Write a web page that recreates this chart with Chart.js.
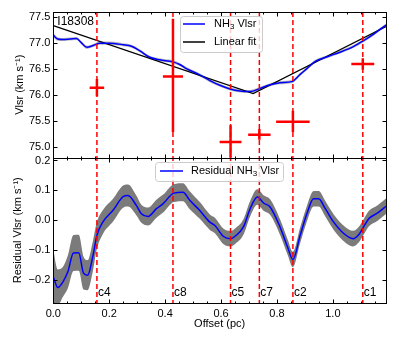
<!DOCTYPE html>
<html><head><meta charset="utf-8">
<script src="https://cdn.jsdelivr.net/npm/chart.js@4/dist/chart.umd.min.js"></script>
<style>html,body{margin:0;padding:0;background:#fff}#wrap{width:399px;height:342px;position:relative}</style>
</head><body><div id="wrap"><canvas id="c" width="399" height="342"></canvas></div>
<script>
// ---- data ----
const sourceName = 'I18308';
const vlsrX = [0, 0.016, 0.035, 0.06, 0.083, 0.1, 0.12, 0.145, 0.166, 0.2, 0.25, 0.28, 0.31, 0.345, 0.38, 0.428, 0.452, 0.476, 0.52, 0.56, 0.596, 0.632, 0.668, 0.704, 0.74, 0.776, 0.811, 0.853, 0.883, 0.907, 0.937, 0.98, 1.027, 1.075, 1.107, 1.147, 1.19];
const vlsrY = [77.15, 77.08, 77.07, 77.08, 77.09, 77.01, 76.92, 76.96, 77.00, 77.00, 76.97, 76.94, 76.85, 76.73, 76.68, 76.64, 76.59, 76.51, 76.40, 76.28, 76.19, 76.12, 76.08, 76.07, 76.13, 76.20, 76.24, 76.26, 76.40, 76.51, 76.65, 76.74, 76.83, 76.94, 77.04, 77.18, 77.35];
const vlsrErr = [0.04, 0.035, 0.03, 0.03, 0.03, 0.03, 0.03, 0.03, 0.03, 0.03, 0.03, 0.03, 0.03, 0.03, 0.03, 0.03, 0.03, 0.03, 0.03, 0.03, 0.03, 0.03, 0.03, 0.03, 0.03, 0.03, 0.03, 0.03, 0.03, 0.03, 0.03, 0.03, 0.03, 0.03, 0.03, 0.03, 0.03];
const fitX = [0, 0.715, 1.19];
const fitY = [77.34, 76.03, 77.32];
const compNames = ['c4', 'c8', 'c5', 'c7', 'c2', 'c1'];
const compX = [0.156, 0.428, 0.634, 0.737, 0.857, 1.107];
const compV = [76.14, 76.36, 75.10, 75.24, 75.49, 76.60];
const compXerr = [0.026, 0.036, 0.039, 0.040, 0.060, 0.041];
const compVlo = [75.98, 75.29, 74.78, 75.14, 75.29, 76.49];
const compVhi = [76.31, 77.47, 75.42, 75.35, 75.70, 76.71];
const resX = [0, 0.016, 0.034, 0.052, 0.072, 0.091, 0.108, 0.123, 0.141, 0.156, 0.177, 0.213, 0.251, 0.267, 0.297, 0.315, 0.339, 0.369, 0.393, 0.431, 0.464, 0.488, 0.524, 0.56, 0.578, 0.608, 0.634, 0.65, 0.68, 0.704, 0.73, 0.752, 0.776, 0.811, 0.838, 0.857, 0.883, 0.907, 0.931, 0.949, 0.973, 1.003, 1.039, 1.072, 1.093, 1.11, 1.129, 1.159, 1.19];
const resY = [-0.189, -0.224, -0.206, -0.172, -0.109, -0.108, -0.176, -0.183, -0.122, -0.05, -0.006, 0.033, 0.08, 0.083, 0.05, 0.022, 0.013, 0.039, 0.056, 0.091, 0.094, 0.067, 0.033, -0.006, -0.017, -0.053, -0.061, -0.053, -0.022, 0.039, 0.078, 0.058, 0.044, -0.022, -0.089, -0.131, -0.05, 0.022, 0.072, 0.072, 0.039, -0.006, -0.044, -0.061, -0.047, -0.022, 0.006, 0.024, 0.047];
const resErr = [0.09, 0.06, 0.05, 0.055, 0.06, 0.06, 0.055, 0.05, 0.05, 0.045, 0.04, 0.038, 0.037, 0.037, 0.033, 0.03, 0.03, 0.03, 0.03, 0.03, 0.03, 0.03, 0.028, 0.026, 0.026, 0.026, 0.026, 0.026, 0.026, 0.026, 0.026, 0.026, 0.026, 0.026, 0.026, 0.026, 0.026, 0.026, 0.026, 0.026, 0.026, 0.026, 0.026, 0.026, 0.026, 0.026, 0.026, 0.026, 0.026];
const xTicks = [0, 0.2, 0.4, 0.6, 0.8, 1.0];
const xTickLabels = ['0.0', '0.2', '0.4', '0.6', '0.8', '1.0'];
const xMinorTicks = [0.05,0.1,0.15,0.25,0.3,0.35,0.45,0.5,0.55,0.65,0.7,0.75,0.85,0.9,0.95,1.05,1.1,1.15];
const yTopTicks = [75.0, 75.5, 76.0, 76.5, 77.0, 77.5];
const yTopTickLabels = ['75.0', '75.5', '76.0', '76.5', '77.0', '77.5'];
const yBotTicks = [-0.2, -0.1, 0.0, 0.1, 0.2];
const yBotTickLabels = ['\u22120.2', '\u22120.1', '0.0', '0.1', '0.2'];

// ---- build datasets ----
const pts = (xs, ys) => xs.map((x, i) => ({x, y: ys[i]}));
const errData = [];
compX.forEach((x, i) => {
  errData.push({x: x - compXerr[i], y: compV[i]}, {x: x + compXerr[i], y: compV[i]}, {x: x, y: null});
  errData.push({x: x, y: compVlo[i]}, {x: x, y: compVhi[i]}, {x: x, y: null});
});
const FONT = 'Liberation Sans, Arial, sans-serif';

const frame = {
  id: 'frame',
  afterDatasetsDraw(chart) {
    const c = chart.ctx, xs = chart.scales.x, ca = chart.chartArea;
    // red dashed component lines
    c.save();
    c.strokeStyle = '#ff0000'; c.lineWidth = 1.5; c.setLineDash([5, 3]);
    compX.forEach(v => {
      const px = xs.getPixelForValue(v);
      c.beginPath(); c.moveTo(px, ca.top); c.lineTo(px, ca.bottom); c.stroke();
    });
    c.restore();
    // frames and ticks
    c.save();
    c.strokeStyle = '#000'; c.lineWidth = 1;
    [['yT', yTopTicks], ['yB', yBotTicks]].forEach(([id, yt]) => {
      const ys = chart.scales[id];
      const L = Math.round(xs.left) + 0.5, R = Math.round(xs.right) + 0.5;
      const T = Math.round(ys.top) + 0.5, B = Math.round(ys.bottom) + 0.5;
      c.strokeRect(L, T, R - L, B - T);
      c.beginPath();
      xTicks.forEach(v => { const p = Math.round(xs.getPixelForValue(v)) + 0.5; c.moveTo(p, T); c.lineTo(p, T + 4); c.moveTo(p, B); c.lineTo(p, B - 4); });
      xMinorTicks.forEach(v => { const p = Math.round(xs.getPixelForValue(v)) + 0.5; c.moveTo(p, T); c.lineTo(p, T + 2); c.moveTo(p, B); c.lineTo(p, B - 2); });
      yt.forEach(v => { const p = Math.round(ys.getPixelForValue(v)) + 0.5; c.moveTo(L, p); c.lineTo(L + 4, p); c.moveTo(R, p); c.lineTo(R - 4, p); });
      c.stroke();
    });
    c.restore();
    // component labels
    c.save();
    c.fillStyle = '#000'; c.font = '12px ' + FONT; c.textBaseline = 'middle'; c.textAlign = 'left';
    const yb = chart.scales.yB;
    compX.forEach((v, i) => { c.fillText(compNames[i], xs.getPixelForValue(v) + 1, yb.getPixelForValue(-0.24)); });
    c.fillText(sourceName, xs.left + 4, chart.scales.yT.top + 10);
    c.restore();
    // legends
    const drawLegendBox = (x, y, w, h) => {
      c.save();
      c.beginPath();
      if (c.roundRect) c.roundRect(x + 0.5, y + 0.5, w, h, 3); else c.rect(x + 0.5, y + 0.5, w, h);
      c.fillStyle = 'rgba(255,255,255,0.8)'; c.fill();
      c.strokeStyle = '#cccccc'; c.lineWidth = 1; c.stroke();
      c.restore();
    };
    const drawNH3 = (x, y, pre, post) => {
      c.save(); c.fillStyle = '#000'; c.textBaseline = 'middle'; c.textAlign = 'left';
      c.font = '11px ' + FONT; c.fillText(pre + 'NH', x, y);
      let w = c.measureText(pre + 'NH').width;
      c.font = '8px ' + FONT; c.fillText('3', x + w, y + 3);
      w += c.measureText('3').width;
      c.font = '11px ' + FONT; c.fillText(post, x + w, y);
      c.restore();
    };
    const sample = (x1, x2, y, col) => { c.save(); c.strokeStyle = col; c.lineWidth = 1.5; c.beginPath(); c.moveTo(x1, y); c.lineTo(x2, y); c.stroke(); c.restore(); };
    drawLegendBox(180, 16, 82, 36);
    sample(183, 205, 24, '#0000ff');
    drawNH3(214, 24, '', ' Vlsr');
    sample(183, 205, 42, '#000');
    c.save(); c.fillStyle = '#000'; c.font = '11px ' + FONT; c.textBaseline = 'middle'; c.fillText('Linear fit', 214, 42); c.restore();
    drawLegendBox(155, 162, 128, 19);
    sample(160, 183, 171, '#0000ff');
    drawNH3(191, 171, 'Residual ', ' Vlsr');
  }
};

const smooth = {cubicInterpolationMode: 'monotone'};
new Chart(document.getElementById('c'), {
  type: 'line',
  data: {
    datasets: [
      {...smooth, order: 10, yAxisID: 'yT', data: pts(vlsrX, vlsrY.map((v, i) => v - vlsrErr[i])), borderWidth: 0, borderColor: 'rgba(0,0,0,0)', fill: false},
      {...smooth, order: 9, yAxisID: 'yT', data: pts(vlsrX, vlsrY.map((v, i) => v + vlsrErr[i])), borderWidth: 0, borderColor: 'rgba(0,0,0,0)', backgroundColor: 'rgba(128,128,128,0.55)', fill: '-1'},
      {...smooth, order: 3, yAxisID: 'yT', data: pts(vlsrX, vlsrY), borderColor: '#0000ff', borderWidth: 1.5, fill: false},
      {order: 4, yAxisID: 'yT', data: pts(fitX, fitY), borderColor: '#000000', borderWidth: 1.3, fill: false},
      {order: 1, yAxisID: 'yT', data: errData, borderColor: '#ff0000', borderWidth: 2.5, spanGaps: false, fill: false, borderCapStyle: 'butt'},
      {...smooth, order: 10, yAxisID: 'yB', data: pts(resX, resY.map((v, i) => v - resErr[i])), borderWidth: 0, borderColor: 'rgba(0,0,0,0)', fill: false},
      {...smooth, order: 9, yAxisID: 'yB', data: pts(resX, resY.map((v, i) => v + resErr[i])), borderWidth: 0, borderColor: 'rgba(0,0,0,0)', backgroundColor: '#7b7b7b', fill: '-1'},
      {...smooth, order: 2, yAxisID: 'yB', data: pts(resX, resY), borderColor: '#0000ff', borderWidth: 1.5, fill: false}
    ]
  },
  options: {
    responsive: false, animation: false,
    layout: {padding: {top: 12, right: 13, left: 0, bottom: 0}},
    plugins: {legend: {display: false}, tooltip: {enabled: false}},
    elements: {point: {radius: 0}, line: {tension: 0}},
    scales: {
      x: {
        type: 'linear', min: 0, max: 1.19,
        afterBuildTicks: s => { s.ticks = xTicks.map(v => ({value: v})); },
        afterFit: s => { s.height = 39; },
        grid: {display: false, drawTicks: false}, border: {display: false},
        ticks: {padding: 4, color: '#000', font: {family: FONT, size: 11}, maxRotation: 0, autoSkip: false,
          callback: (v) => xTickLabels[xTicks.indexOf(v)]},
        title: {display: true, text: 'Offset (pc)', color: '#000', font: {family: FONT, size: 11}, padding: {top: 0, bottom: 11}}
      },
      yB: {
        type: 'linear', position: 'left', stack: 'panels', stackWeight: 1, min: -0.276, max: 0.21,
        afterBuildTicks: s => { s.ticks = yBotTicks.map(v => ({value: v})); },
        afterFit: s => { s.width = 53.3; },
        grid: {display: false, drawTicks: false}, border: {display: false},
        ticks: {padding: 3, color: '#000', font: {family: FONT, size: 11}, autoSkip: false,
          callback: (v) => yBotTickLabels[yBotTicks.indexOf(v)]},
        title: {display: true, text: 'Residual Vlsr (km s\u207B\u00B9)', color: '#000', font: {family: FONT, size: 11}, padding: {top: 11, bottom: 0}}
      },
      yT: {
        type: 'linear', position: 'left', stack: 'panels', stackWeight: 1, min: 74.8, max: 77.6,
        afterBuildTicks: s => { s.ticks = yTopTicks.map(v => ({value: v})); },
        afterFit: s => { s.width = 53.3; },
        grid: {display: false, drawTicks: false}, border: {display: false},
        ticks: {padding: 3, color: '#000', font: {family: FONT, size: 11}, autoSkip: false,
          callback: (v) => yTopTickLabels[yTopTicks.indexOf(v)]},
        title: {display: true, text: 'Vlsr (km s\u207B\u00B9)', color: '#000', font: {family: FONT, size: 11}, padding: {top: 13, bottom: 0}}
      }
    }
  },
  plugins: [frame]
});
</script></body></html>
